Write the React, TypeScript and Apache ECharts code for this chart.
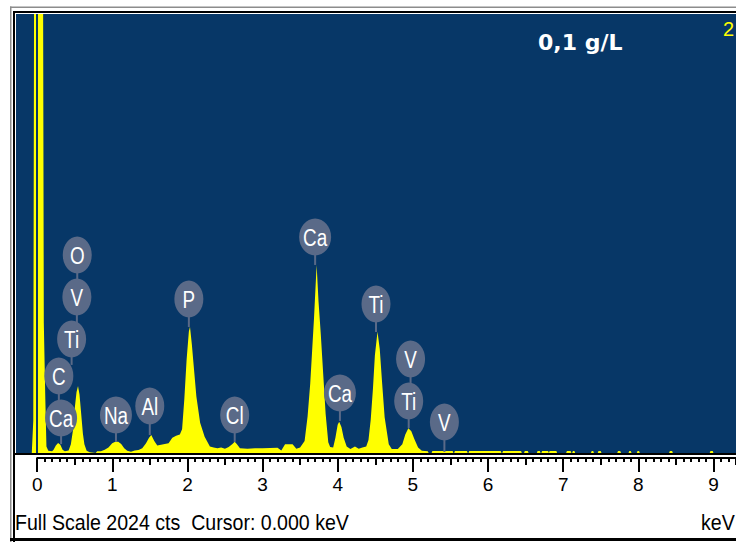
import React, { useEffect, useRef } from "react";
import * as echarts from "echarts";

// ---- spectrum (energy in keV, counts) ----
const SPECTRUM_KEV = [
  -0.28, -0.07, -0.05, -0.035, 0.075, 0.09, 0.11, 0.125, 0.15, 0.2, 0.22, 0.25, 0.28, 0.31, 0.34, 0.37,
  0.42, 0.45, 0.48, 0.5, 0.525, 0.545, 0.565, 0.585, 0.61, 0.63, 0.66, 0.7, 0.78, 0.8, 0.85, 0.9, 0.95,
  1.0, 1.04, 1.08, 1.12, 1.16, 1.2, 1.25, 1.3, 1.35, 1.4, 1.45, 1.49, 1.52, 1.56, 1.6, 1.65, 1.7, 1.75,
  1.8, 1.85, 1.9, 1.93, 1.96, 1.99, 2.02, 2.035, 2.06, 2.08, 2.12, 2.17, 2.23, 2.3, 2.35, 2.4, 2.45, 2.5,
  2.55, 2.6, 2.63, 2.66, 2.7, 2.8, 2.9, 3.0, 3.2, 3.25, 3.3, 3.4, 3.45, 3.5, 3.56, 3.6, 3.635, 3.66,
  3.685, 3.72, 3.745, 3.775, 3.81, 3.84, 3.875, 3.9, 3.94, 3.97, 4.0, 4.02, 4.05, 4.08, 4.12, 4.17, 4.23,
  4.28, 4.33, 4.38, 4.41, 4.44, 4.47, 4.495, 4.53, 4.56, 4.59, 4.625, 4.68, 4.72, 4.8, 4.86, 4.9, 4.94,
  4.98, 5.02, 5.07, 5.12, 5.2, 5.21, 5.25, 5.26, 5.53, 5.54, 5.55, 5.56, 5.72, 5.73, 5.74, 5.75, 6.17,
  6.18, 6.19, 6.2, 6.44, 6.45, 6.48, 6.49, 6.53, 6.54, 6.65, 6.66, 6.69, 6.7, 6.71, 6.72, 6.8, 6.81, 6.82,
  6.91, 6.92, 7.04, 7.05, 7.1, 7.11, 7.12, 7.13, 7.15, 7.16, 7.37, 7.38, 7.4, 7.41, 7.46, 7.47, 7.5, 7.51,
  7.72, 7.73, 7.76, 7.77, 7.87, 7.88, 7.9, 7.91, 7.98, 7.99, 8.01, 8.02, 8.41, 8.42, 8.45, 8.46, 8.95,
  8.96, 8.99, 9.0, 9.3,
];
const SPECTRUM_COUNTS = [
  0, 0, 150, 3000, 3000, 600, 250, 30, 10, 8, 15, 35, 46, 38, 15, 8,
  12, 40, 110, 200, 280, 309, 270, 190, 90, 40, 10, 3, 0, 8, 8, 15, 25,
  45, 52, 52, 42, 22, 10, 6, 12, 14, 22, 45, 70, 83, 55, 35, 38, 42, 45,
  70, 80, 85, 110, 250, 430, 560, 582, 500, 420, 260, 140, 75, 30, 25, 22, 25, 20,
  28, 42, 52, 40, 22, 20, 22, 22, 24, 12, 40, 40, 20, 25, 55, 170, 320, 470,
  620, 867, 700, 550, 350, 180, 50, 28, 25, 70, 130, 144, 120, 70, 30, 18, 30,
  20, 25, 30, 60, 155, 300, 450, 559, 480, 330, 165, 40, 18, 18, 40, 85, 114,
  100, 65, 25, 10, 8, 0, 0, 9, 9, 0, 0, 9, 9, 0, 0, 9, 9,
  0, 0, 9, 9, 0, 0, 9, 9, 0, 0, 9, 9, 0, 0, 9, 9, 0, 9,
  9, 0, 0, 9, 9, 0, 0, 9, 9, 0, 0, 9, 9, 0, 0, 9, 9, 0,
  0, 9, 9, 0, 0, 9, 9, 0, 0, 9, 9, 0, 0, 9, 9, 0, 0,
  9, 9, 0, 0,
];

// ---- peak identification labels ----
const PEAK_NAMES = ["O", "V", "Ti", "C", "Ca", "Na", "Al", "P", "Cl", "Ca", "Ca", "Ti", "V", "Ti", "V"];
const PEAK_KEV = [0.535, 0.53, 0.46, 0.29, 0.32, 1.05, 1.5, 2.02, 2.63, 3.7, 4.03, 4.51, 4.97, 4.945, 5.42];
const LABEL_LEVEL = [913, 719, 526, 355, 161, 175, 217, 710, 175, 996, 277, 687, 433, 240, 143];
const STEM_END = [719, 526, 406, 161, 41, 51, 83, 581, 51, 867, 148, 558, 240, 115, 5];

const FULL_SCALE = 2024;
const CURSOR_KEV = 0;
const SAMPLE_NAME = "0,1 g/L";

// ---- layout ----
const XMIN = -0.28;
const XMAX = 9.3;
const PX_PER_KEV = 75.6;
const PLOT_LEFT = 16;
const PLOT_TOP = 14;
const PLOT_BOTTOM = 453;
const AXIS_Y = 458;

const BG = "#073767";
const YELLOW = "#ffff00";
const LABEL_FILL = "#5a6a88";

export default function App() {
  const ref = useRef<HTMLDivElement>(null);

  useEffect(() => {
    if (!ref.current) return;
    const chart = echarts.init(ref.current, undefined, { renderer: "svg" });
    const axisLeft = PLOT_LEFT + (0 - XMIN) * PX_PER_KEV;
    const spectrum = SPECTRUM_KEV.map((e, i) => [e, SPECTRUM_COUNTS[i]]);
    const labels = PEAK_KEV.map((e, i) => [e, LABEL_LEVEL[i], STEM_END[i]]);

    const axisCommon = {
      type: "value" as const,
      gridIndex: 1,
      min: 0,
      max: XMAX,
      position: "bottom" as const,
      offset: 0,
      splitLine: { show: false },
      axisLine: { show: false, onZero: false },
    };

    chart.setOption({
      animation: false,
      backgroundColor: "#ffffff",
      grid: [
        {
          left: PLOT_LEFT,
          top: PLOT_TOP,
          width: (XMAX - XMIN) * PX_PER_KEV,
          height: PLOT_BOTTOM - PLOT_TOP,
          show: true,
          backgroundColor: BG,
          borderWidth: 0,
        },
        {
          left: axisLeft,
          top: 300,
          width: XMAX * PX_PER_KEV,
          height: AXIS_Y - 300,
          show: false,
        },
      ],
      xAxis: [
        { type: "value", gridIndex: 0, min: XMIN, max: XMAX, show: false },
        {
          ...axisCommon,
          interval: 0.1,
          axisTick: { show: true, length: 4, lineStyle: { color: "#000", width: 2 } },
          axisLabel: { show: false },
        },
        {
          ...axisCommon,
          interval: 0.5,
          axisTick: { show: true, length: 7, lineStyle: { color: "#000", width: 2 } },
          axisLabel: { show: false },
        },
        {
          ...axisCommon,
          interval: 1,
          axisLine: { show: true, onZero: false, lineStyle: { color: "#000", width: 2 } },
          axisTick: { show: true, length: 14, lineStyle: { color: "#000", width: 2 } },
          axisLabel: {
            show: true,
            showMaxLabel: false,
            margin: 17,
            color: "#000",
            fontSize: 19,
            fontFamily: "Liberation Sans",
            formatter: (v: number) => (Math.abs(v - Math.round(v)) < 1e-6 ? String(Math.round(v)) : ""),
          },
        },
      ],
      yAxis: [
        { type: "value", gridIndex: 0, min: 0, max: FULL_SCALE, show: false },
        { type: "value", gridIndex: 1, min: 0, max: 1, show: false },
      ],
      series: [
        {
          type: "line",
          xAxisIndex: 0,
          yAxisIndex: 0,
          data: spectrum,
          symbol: "none",
          lineStyle: { width: 0, color: YELLOW },
          itemStyle: { color: YELLOW },
          areaStyle: { color: YELLOW, opacity: 1 },
          clip: true,
          markLine: {
            silent: true,
            symbol: "none",
            label: { show: false },
            lineStyle: { color: BG, width: 2, type: "solid" },
            data: [{ xAxis: CURSOR_KEV }],
          },
          z: 2,
        },
        {
          type: "custom",
          xAxisIndex: 0,
          yAxisIndex: 0,
          data: labels,
          encode: { x: 0, y: 1 },
          z: 5,
          renderItem: (params: any, api: any) => {
            const i = params.dataIndex;
            const c = api.coord([api.value(0), api.value(1)]);
            const s = api.coord([api.value(0), api.value(2)]);
            const name = PEAK_NAMES[i];
            const rx = name === "Ca" || name === "Na" ? 16 : 14.5;
            return {
              type: "group",
              children: [
                {
                  type: "line",
                  shape: { x1: c[0], y1: c[1], x2: c[0], y2: s[1] },
                  style: { stroke: LABEL_FILL, lineWidth: 2 },
                },
                {
                  type: "ellipse",
                  shape: { cx: c[0], cy: c[1], rx, ry: 18.5 },
                  style: { fill: LABEL_FILL },
                },
                {
                  type: "text",
                  x: c[0],
                  y: c[1] + 1,
                  scaleX: 0.82,
                  style: {
                    text: name,
                    fill: "#ffffff",
                    font: '23px "Liberation Sans"',
                    align: "center",
                    verticalAlign: "middle",
                  },
                },
              ],
            };
          },
        },
      ],
      graphic: [
        { type: "rect", z: 10, shape: { x: 10, y: 6.5, width: 726, height: 1.5 }, style: { fill: "#8c8c8c" } },
        { type: "rect", z: 10, shape: { x: 10, y: 6.5, width: 1.5, height: 536 }, style: { fill: "#8c8c8c" } },
        { type: "rect", z: 10, shape: { x: 13, y: 11, width: 723, height: 2 }, style: { fill: "#000" } },
        { type: "rect", z: 10, shape: { x: 13, y: 11, width: 2, height: 531 }, style: { fill: "#000" } },
        { type: "rect", z: 10, shape: { x: 13, y: PLOT_BOTTOM, width: 723, height: 2 }, style: { fill: "#000" } },
        { type: "rect", z: 10, shape: { x: 10, y: 538, width: 726, height: 3 }, style: { fill: "#000" } },
        {
          type: "text",
          z: 10,
          x: 538,
          y: 42,
          style: {
            text: SAMPLE_NAME,
            fill: "#ffffff",
            font: 'bold 22px "DejaVu Sans"',
            verticalAlign: "middle",
          },
        },
        {
          type: "text",
          z: 10,
          x: 723,
          y: 29,
          style: { text: "2", fill: YELLOW, font: '20px "Liberation Sans"', verticalAlign: "middle" },
        },
        {
          type: "text",
          z: 10,
          x: 15,
          y: 522,
          scaleX: 0.89,
          style: {
            text: `Full Scale ${FULL_SCALE} cts  Cursor: ${CURSOR_KEV.toFixed(3)} keV`,
            fill: "#000",
            font: '22px "Liberation Sans"',
            verticalAlign: "middle",
          },
        },
        {
          type: "text",
          z: 10,
          x: 701,
          y: 522,
          scaleX: 0.89,
          style: { text: "keV", fill: "#000", font: '22px "Liberation Sans"', verticalAlign: "middle" },
        },
      ],
    });
    return () => chart.dispose();
  }, []);

  return (
    <div
      ref={ref}
      style={{ position: "absolute", left: 0, top: 0, width: 736, height: 542, background: "#fff" }}
    />
  );
}
